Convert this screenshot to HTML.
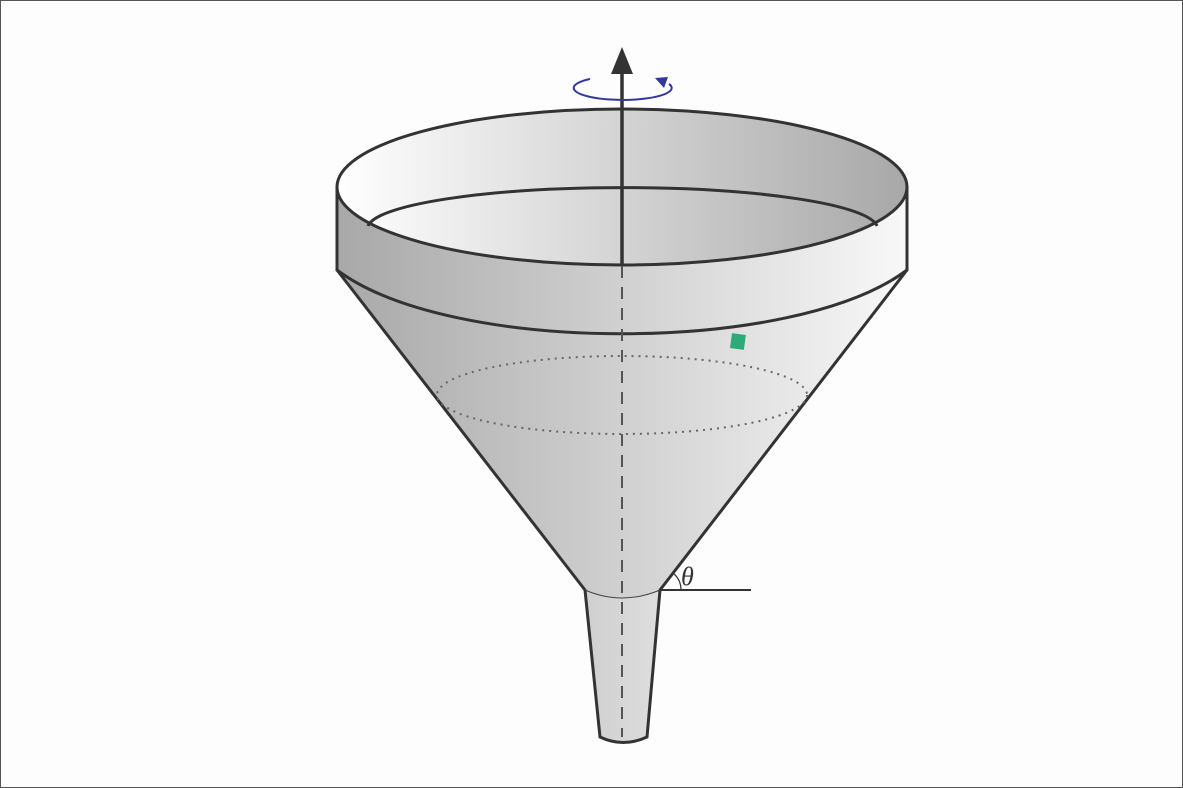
<!DOCTYPE html>
<html><head><meta charset="utf-8"><style>
html,body{margin:0;padding:0;background:#fff;}
svg{display:block;}
</style></head><body>
<svg width="1183" height="788" viewBox="0 0 1183 788">
<defs>
<linearGradient id="cone" x1="337" x2="907" y1="0" y2="0" gradientUnits="userSpaceOnUse"><stop offset="0" stop-color="#a8a8a8"/><stop offset="1" stop-color="#f8f8f8"/></linearGradient>
<linearGradient id="inner" x1="337" x2="907" y1="0" y2="0" gradientUnits="userSpaceOnUse"><stop offset="0" stop-color="#ffffff"/><stop offset="1" stop-color="#a8a8a8"/></linearGradient>
<linearGradient id="tube" x1="585" x2="660" y1="0" y2="0" gradientUnits="userSpaceOnUse"><stop offset="0" stop-color="#cfcfcf"/><stop offset="1" stop-color="#dedede"/></linearGradient>
</defs>
<rect x="0.5" y="0.5" width="1182" height="787" fill="#fdfdfd" stroke="#555"/>
<!-- tube -->
<path d="M585,590 L600,737 Q623,748 647,737 L660,590 Z" fill="url(#tube)" stroke="#333" stroke-width="3"/>
<!-- cone -->
<path d="M337,270 L585,590 Q622,606 660,590 L907,270 Z" fill="url(#cone)" stroke="none"/>
<path d="M337,270 L585,590 M907,270 L660,590" fill="none" stroke="#333" stroke-width="3" stroke-linecap="round"/>
<path d="M585,590 Q622,606 660,590" fill="none" stroke="#444" stroke-width="1"/>
<ellipse cx="622" cy="395" rx="185" ry="39" fill="none" stroke="#666" stroke-width="2" stroke-dasharray="2,5"/>
<!-- band -->
<path d="M337,187 L337,270 C450,355 794,355 907,270 L907,187 Z" fill="url(#cone)" stroke="#333" stroke-width="3" stroke-linejoin="miter"/>
<ellipse cx="622" cy="187" rx="285" ry="78" fill="url(#inner)" stroke="#333" stroke-width="3"/>
<path d="M368,226 A255,41 0 0 1 877,226" fill="none" stroke="#333" stroke-width="3"/>
<!-- axis -->
<line x1="622" y1="266" x2="622" y2="737" stroke="#555" stroke-width="2" stroke-dasharray="12,9"/>
<line x1="622" y1="266" x2="622" y2="70" stroke="#333" stroke-width="3.5"/>
<polygon points="622,47 611,74 633,74" fill="#333"/>
<path d="M590,79 A49,12 0 1 0 669,84" fill="none" stroke="#33399a" stroke-width="2"/>
<polygon points="655,78 668,77 664,88" fill="#33399a"/>
<!-- green block -->
<rect x="731" y="334" width="14" height="15" fill="#2eaa78" transform="rotate(8 738 341)"/>
<!-- theta -->
<line x1="660" y1="590" x2="751" y2="590" stroke="#333" stroke-width="2"/>
<path d="M673,573 A22,22 0 0 1 681,590" fill="none" stroke="#333" stroke-width="1.2"/>
<text x="681" y="585" font-family="Liberation Serif, serif" font-style="italic" font-size="26" fill="#333">θ</text>
</svg>
</body></html>
